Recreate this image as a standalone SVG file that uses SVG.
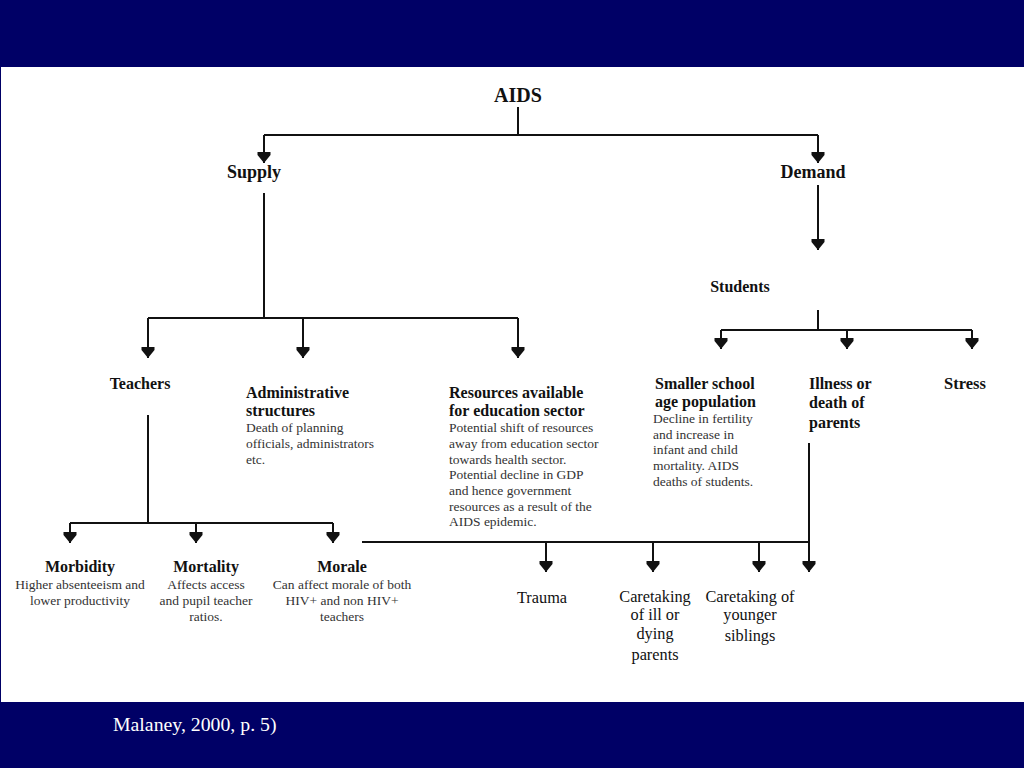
<svg xmlns="http://www.w3.org/2000/svg" width="1024" height="768" viewBox="0 0 1024 768">
<style>
.h{font-family:"Liberation Serif",serif;font-weight:bold;font-size:16px;fill:#111}
.d{font-family:"Liberation Serif",serif;font-size:13.5px;fill:#333}
.r{font-family:"Liberation Serif",serif;font-size:16.3px;fill:#111}
.c{text-anchor:middle}
.ln{stroke:#111;stroke-width:2;fill:none}
</style>
<defs>
<marker id="ah" markerUnits="userSpaceOnUse" markerWidth="12" markerHeight="14" refX="11" refY="7" orient="auto" viewBox="0 0 12 14">
<path d="M0,0.5 L3,0.5 L11,7 L3,13.5 L0,13.5 Z" fill="#111"/>
</marker>
</defs>
<rect x="0" y="0" width="1024" height="768" fill="#000066"/>
<rect x="1" y="67" width="1023" height="635" fill="#ffffff"/>

<g id="connectors">
<path class="ln" d="M518,107 V135 M264,135 H818"/>
<path class="ln" d="M264,135 V163" marker-end="url(#ah)"/>
<path class="ln" d="M818,135 V163" marker-end="url(#ah)"/>
<path class="ln" d="M264,193 V318 M148,318 H518"/>
<path class="ln" d="M148,318 V358" marker-end="url(#ah)"/>
<path class="ln" d="M303,318 V358" marker-end="url(#ah)"/>
<path class="ln" d="M518,318 V358" marker-end="url(#ah)"/>
<path class="ln" d="M818,185 V250" marker-end="url(#ah)"/>
<path class="ln" d="M818,310 V330 M721,330 H972"/>
<path class="ln" d="M721,330 V349" marker-end="url(#ah)"/>
<path class="ln" d="M847,330 V349" marker-end="url(#ah)"/>
<path class="ln" d="M972,330 V349" marker-end="url(#ah)"/>
<path class="ln" d="M148,415 V523 M70,523 H333"/>
<path class="ln" d="M70,523 V543" marker-end="url(#ah)"/>
<path class="ln" d="M196,523 V543" marker-end="url(#ah)"/>
<path class="ln" d="M333,523 V543" marker-end="url(#ah)"/>
<path class="ln" d="M362,542 H809"/>
<path class="ln" d="M809,443 V572" marker-end="url(#ah)"/>
<path class="ln" d="M546,542 V572" marker-end="url(#ah)"/>
<path class="ln" d="M653,542 V572" marker-end="url(#ah)"/>
<path class="ln" d="M759,542 V572" marker-end="url(#ah)"/>
</g>

<g id="aids"><text class="h c" x="518" y="102" style="font-size:20px">AIDS</text></g>
<g id="supply"><text class="h c" x="254" y="178" style="font-size:18px">Supply</text></g>
<g id="demand"><text class="h c" x="813" y="178" style="font-size:18px">Demand</text></g>
<g id="students"><text class="h c" x="740" y="292">Students</text></g>
<g id="teachers"><text class="h c" x="140" y="389">Teachers</text></g>
<g id="admin">
<text class="h" x="246" y="398">Administrative</text>
<text class="h" x="246" y="416">structures</text>
<text class="d" x="246" y="432">Death of planning</text>
<text class="d" x="246" y="448">officials, administrators</text>
<text class="d" x="246" y="464">etc.</text>
</g>
<g id="resources">
<text class="h" x="449" y="398">Resources available</text>
<text class="h" x="449" y="416">for education sector</text>
<text class="d" x="449" y="432">Potential shift of resources</text>
<text class="d" x="449" y="448">away from education sector</text>
<text class="d" x="449" y="464">towards health sector.</text>
<text class="d" x="449" y="479">Potential decline in GDP</text>
<text class="d" x="449" y="495">and hence government</text>
<text class="d" x="449" y="511">resources as a result of the</text>
<text class="d" x="449" y="526">AIDS epidemic.</text>
</g>
<g id="smaller">
<text class="h" x="655" y="389">Smaller school</text>
<text class="h" x="655" y="407">age population</text>
<text class="d" x="653" y="423">Decline in fertility</text>
<text class="d" x="653" y="439">and increase in</text>
<text class="d" x="653" y="454">infant and child</text>
<text class="d" x="653" y="470">mortality. AIDS</text>
<text class="d" x="653" y="486">deaths of students.</text>
</g>
<g id="illness">
<text class="h" x="809" y="389">Illness or</text>
<text class="h" x="809" y="408">death of</text>
<text class="h" x="809" y="428">parents</text>
</g>
<g id="stress"><text class="h" x="944" y="389" style="font-size:16.5px">Stress</text></g>
<g id="morbidity">
<text class="h c" x="80" y="572">Morbidity</text>
<text class="d c" x="80" y="589">Higher absenteeism and</text>
<text class="d c" x="80" y="605">lower productivity</text>
</g>
<g id="mortality">
<text class="h c" x="206" y="572">Mortality</text>
<text class="d c" x="206" y="589">Affects access</text>
<text class="d c" x="206" y="605">and pupil teacher</text>
<text class="d c" x="206" y="621">ratios.</text>
</g>
<g id="morale">
<text class="h c" x="342" y="572">Morale</text>
<text class="d c" x="342" y="589">Can affect morale of both</text>
<text class="d c" x="342" y="605">HIV+ and non HIV+</text>
<text class="d c" x="342" y="621">teachers</text>
</g>
<g id="trauma"><text class="r c" x="542" y="603">Trauma</text></g>
<g id="caretaking-ill">
<text class="r c" x="655" y="602">Caretaking</text>
<text class="r c" x="655" y="620">of ill or</text>
<text class="r c" x="655" y="639">dying</text>
<text class="r c" x="655" y="660">parents</text>
</g>
<g id="caretaking-younger">
<text class="r c" x="750" y="602">Caretaking of</text>
<text class="r c" x="750" y="620">younger</text>
<text class="r c" x="750" y="641">siblings</text>
</g>
<g id="footer"><text x="113" y="731" style="font-family:'Liberation Serif',serif;font-size:19.8px;fill:#ffffff">Malaney, 2000, p. 5)</text></g>
</svg>
